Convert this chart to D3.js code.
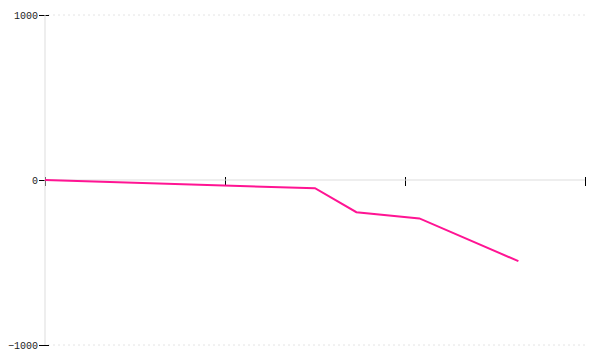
<!DOCTYPE html>
<html>
<head>
<meta charset="utf-8">
<script src="https://cdn.jsdelivr.net/npm/d3@7"></script>
<style>
  body { margin: 0; background: #fff; }
  .tick text { font-family: "Liberation Mono", monospace; font-size: 10px; fill: #222; }
</style>
</head>
<body>
<div id="chart"></div>
<script>
// values
var xValues = [0, 1.5, 1.73, 2.08, 2.63];
var yValues = [0, -50, -195, -233, -492];
var xTicks = [0, 1, 2, 3];
var yTicks = [-1000, 0, 1000];

var margin = {top: 15, right: 15, bottom: 15, left: 45},
    width = 600 - margin.left - margin.right,
    height = 360 - margin.top - margin.bottom;

var svg = d3.select("#chart")
  .append("svg")
    .attr("width", 600)
    .attr("height", 360);

var x = d3.scaleLinear()
  .domain([0, 3])
  .range([margin.left, margin.left + width]);

var y = d3.scaleLinear()
  .domain([-1000, 1000])
  .range([margin.top + height, margin.top]);

// dashed grid lines at the outer ticks
svg.append("g")
  .selectAll("line")
  .data([-1000, 1000])
  .enter()
  .append("line")
    .attr("x1", x(0) + 3)
    .attr("x2", x(3))
    .attr("y1", function(d) { return y(d); })
    .attr("y2", function(d) { return y(d); })
    .attr("stroke", "#e4e4e4")
    .attr("stroke-dasharray", "2,3");

// x ticks (no labels)
var xAxis = svg.append("g")
  .attr("transform", "translate(0," + (y(0) - 3) + ")")
  .call(d3.axisBottom(x).tickValues(xTicks).tickSize(9).tickFormat(""));
xAxis.select(".domain").remove();
xAxis.selectAll(".tick line").attr("stroke", "#000");

// y ticks
var yAxis = svg.append("g")
  .attr("transform", "translate(" + (x(0) + 4) + ",0)")
  .call(d3.axisLeft(y).tickValues(yTicks).tickSize(10).tickPadding(1).tickFormat(d3.format("d")));
yAxis.select(".domain").remove();
yAxis.selectAll(".tick line").attr("stroke", "#000");

// light axis lines on top of ticks
svg.append("line")
  .attr("x1", x(0)).attr("x2", x(3))
  .attr("y1", y(0)).attr("y2", y(0))
  .attr("stroke", "#dddddd");
svg.append("line")
  .attr("x1", x(0)).attr("x2", x(0))
  .attr("y1", y(1000)).attr("y2", y(-1000))
  .attr("stroke", "#dddddd");

var line = d3.line()
  .x(function(d, i) { return x(xValues[i]); })
  .y(function(d) { return y(d); });

svg.append("path")
  .datum(yValues)
  .attr("fill", "none")
  .attr("stroke", "#ff1493")
  .attr("stroke-width", 2)
  .attr("d", line);
</script>
</body>
</html>
